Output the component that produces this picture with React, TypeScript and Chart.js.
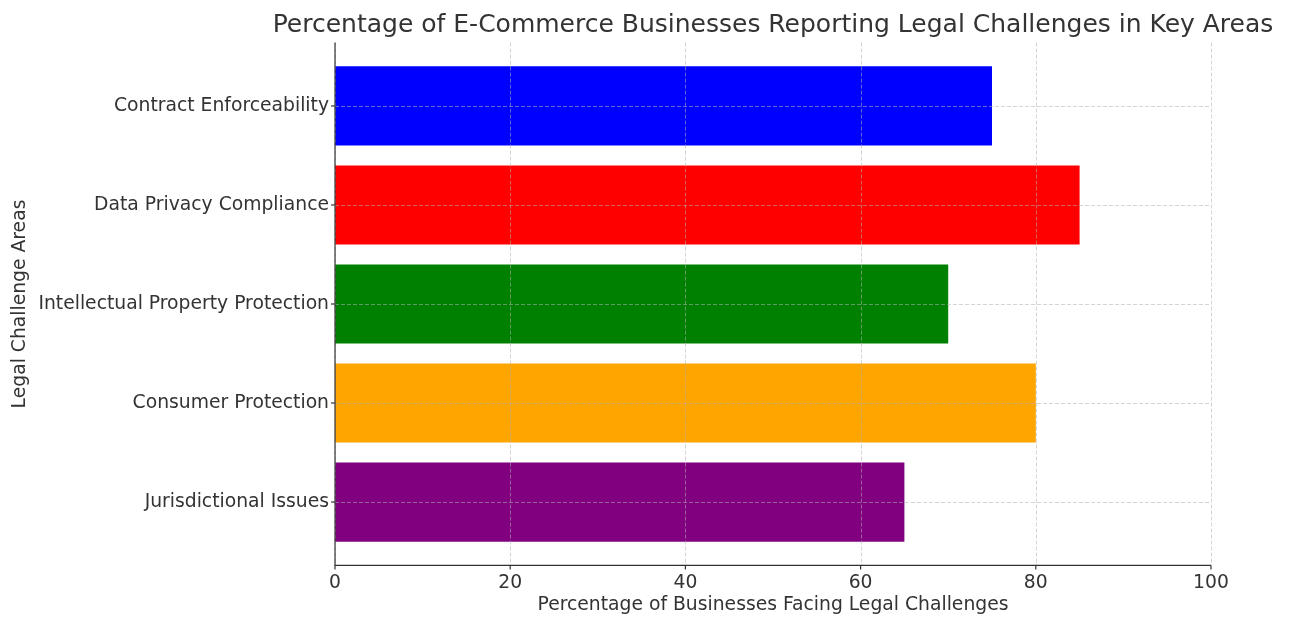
import React, { useEffect, useRef } from "react";
import { Chart, registerables } from "chart.js";

Chart.register(...registerables);

const categories = [
  "Contract Enforceability",
  "Data Privacy Compliance",
  "Intellectual Property Protection",
  "Consumer Protection",
  "Jurisdictional Issues",
];
const percentages = [75, 85, 70, 80, 65];
const barColors = ["#0000ff", "#ff0000", "#008000", "#ffa500", "#800080"];
const xTicks = [0, 20, 40, 60, 80, 100];

const TITLE = "Percentage of E-Commerce Businesses Reporting Legal Challenges in Key Areas";
const X_TITLE = "Percentage of Businesses Facing Legal Challenges";
const Y_TITLE = "Legal Challenge Areas";
const FONT = "'DejaVu Sans', sans-serif";
const TEXT = "#333333";
const FS = 18.75;

const decorPlugin = {
  id: "decor",
  afterDatasetsDraw(chart: any) {
    const { ctx, chartArea } = chart;
    const xs = chart.scales.x;
    const ys = chart.scales.y;
    ctx.save();
    ctx.strokeStyle = "rgba(176,176,176,0.55)";
    ctx.lineWidth = 1;
    ctx.setLineDash([4, 2]);
    xTicks.forEach((t) => {
      const px = Math.round(xs.getPixelForValue(t)) + 0.5;
      ctx.beginPath();
      ctx.moveTo(px, chartArea.top);
      ctx.lineTo(px, chartArea.bottom);
      ctx.stroke();
    });
    categories.forEach((_, i) => {
      const py = Math.round(ys.getPixelForValue(i)) + 0.5;
      ctx.beginPath();
      ctx.moveTo(chartArea.left, py);
      ctx.lineTo(chartArea.right, py);
      ctx.stroke();
    });
    ctx.setLineDash([]);
    ctx.strokeStyle = "#333333";
    ctx.lineWidth = 1.2;
    ctx.beginPath();
    ctx.moveTo(chartArea.left, chartArea.top);
    ctx.lineTo(chartArea.left, chartArea.bottom);
    ctx.lineTo(chartArea.right, chartArea.bottom);
    ctx.stroke();
    xTicks.forEach((t) => {
      const px = xs.getPixelForValue(t);
      ctx.beginPath();
      ctx.moveTo(px, chartArea.bottom);
      ctx.lineTo(px, chartArea.bottom + 4);
      ctx.stroke();
    });
    categories.forEach((_, i) => {
      const py = ys.getPixelForValue(i);
      ctx.beginPath();
      ctx.moveTo(chartArea.left, py);
      ctx.lineTo(chartArea.left - 4, py);
      ctx.stroke();
    });
    ctx.fillStyle = TEXT;
    ctx.font = `25px ${FONT}`;
    ctx.textAlign = "center";
    ctx.textBaseline = "middle";
    ctx.fillText(TITLE, (chartArea.left + chartArea.right) / 2, 25);
    ctx.restore();
  },
};

export default function App() {
  const canvasRef = useRef<HTMLCanvasElement | null>(null);

  useEffect(() => {
    if (!canvasRef.current) return;
    const chart = new Chart(canvasRef.current, {
      type: "bar",
      data: {
        datasets: [
          {
            data: percentages.map((v, i) => ({ x: v, y: i })) as any,
            backgroundColor: barColors,
            borderWidth: 0,
            barPercentage: 0.8,
            categoryPercentage: 1,
          },
        ],
      },
      options: {
        animation: false,
        responsive: true,
        maintainAspectRatio: false,
        indexAxis: "y",
        layout: { padding: { top: 42.6, right: 82, left: 0, bottom: 0 } },
        plugins: {
          legend: { display: false },
          tooltip: { enabled: false },
          title: { display: false },
        },
        scales: {
          x: {
            type: "linear",
            min: 0,
            max: 100,
            offset: false,
            grid: { display: false, drawTicks: false },
            border: { display: false },
            ticks: {
              stepSize: 20,
              padding: 6,
              color: TEXT,
              font: { family: FONT, size: FS },
            },
            title: {
              display: true,
              text: X_TITLE,
              color: TEXT,
              font: { family: FONT, size: FS },
              padding: { top: 0, bottom: 1 },
            },
            afterFit: (scale: any) => {
              scale.height = 51.6;
            },
          },
          y: {
            type: "linear",
            min: -0.64,
            max: 4.64,
            offset: false,
            reverse: true,
            grid: { display: false, drawTicks: false, offset: false },
            border: { display: false },
            afterBuildTicks: (scale: any) => {
              scale.ticks = categories.map((_, i) => ({ value: i }));
            },
            ticks: {
              autoSkip: false,
              padding: 6,
              color: TEXT,
              font: { family: FONT, size: FS },
              callback: (v: any) => categories[v as number] ?? "",
            },
            title: {
              display: true,
              text: Y_TITLE,
              color: TEXT,
              font: { family: FONT, size: FS },
              padding: { top: 9, bottom: 0 },
            },
            afterFit: (scale: any) => {
              scale.width = 335;
            },
          },
        },
      },
      plugins: [decorPlugin],
    });
    return () => chart.destroy();
  }, []);

  return (
    <div style={{ position: "fixed", left: 0, top: 0, width: 1293, height: 617, background: "#fff" }}>
      <canvas ref={canvasRef} />
    </div>
  );
}
